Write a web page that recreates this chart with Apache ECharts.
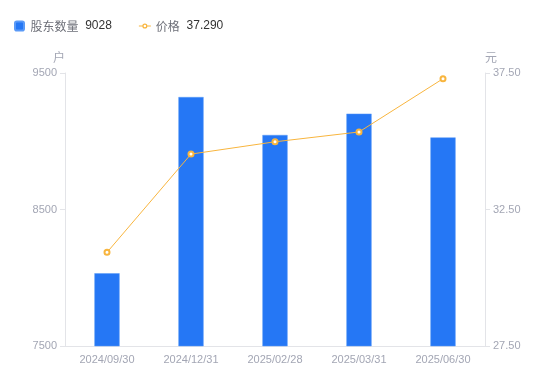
<!DOCTYPE html>
<html>
<head>
<meta charset="utf-8">
<script src="https://cdn.jsdelivr.net/npm/echarts@6/dist/echarts.min.js"></script>
<style>
  html, body { margin: 0; padding: 0; background: #fff; }
  #container { width: 550px; height: 381px; }
</style>
</head>
<body>
<div id="container"></div>
<script>
// data
const dates = ['2024/09/30', '2024/12/31', '2025/02/28', '2025/03/31', '2025/06/30'];
const holders = [8033, 9324, 9046, 9202, 9028];
const prices = [30.93, 34.53, 34.98, 35.34, 37.29];
const holderTicks = [7500, 9500, 1000];   // min, max, interval
const priceTicks = [27.5, 37.5, 5];

const lastHolder = holders[holders.length - 1];
const lastPrice = prices[prices.length - 1].toFixed(3);

let dom = document.getElementById('container');
let myChart = echarts.init(dom);

let labelColor = '#a3a6b4';
let lineColor = '#e3e4e8';
let squareIcon = 'path://M2,0H8A2,2,0,0,1,10,2V8A2,2,0,0,1,8,10H2A2,2,0,0,1,0,8V2A2,2,0,0,1,2,0Z';
// short line with a hollow ring in the middle
let lineIcon = 'path://M0,2.5H4V3.5H0Z M10,2.5H14V3.5H10Z ' +
    'M7,0A3,3,0,1,1,7,6A3,3,0,1,1,7,0Z M7,1.5A1.5,1.5,0,1,0,7,4.5A1.5,1.5,0,1,0,7,1.5Z';

let option = {
    textStyle: { fontFamily: 'Liberation Sans, Noto Sans CJK SC, sans-serif' },
    legend: {
        left: 9,
        top: 15,
        itemGap: 27,
        itemWidth: 12,
        itemHeight: 9,
        formatter: function (name) {
            let v = name === '股东数量' ? lastHolder : lastPrice;
            return '{n|' + name + '}{v|  ' + v + '}';
        },
        textStyle: {
            rich: {
                n: { color: '#6e7079', fontSize: 12, lineHeight: 14, verticalAlign: 'middle', fontFamily: 'Noto Sans CJK SC' },
                v: { color: '#333', fontSize: 12, lineHeight: 14, verticalAlign: 'middle', fontFamily: 'Liberation Sans' }
            }
        },
        data: [
            { name: '股东数量', icon: squareIcon, itemStyle: { color: '#2577f5' } },
            { name: '价格', icon: lineIcon, itemStyle: { color: '#f8b53e' } }
        ]
    },
    grid: { left: 65, right: 65, top: 73, bottom: 35 },
    xAxis: {
        type: 'category',
        data: dates,
        axisLine: { lineStyle: { color: lineColor } },
        axisTick: { show: false },
        axisLabel: { color: labelColor, fontSize: 11, margin: 8 }
    },
    yAxis: [
        {
            type: 'value',
            name: '户',
            nameGap: 10,
            nameTextStyle: { color: labelColor, fontSize: 12, align: 'right', fontFamily: 'Noto Sans CJK SC' },
            min: holderTicks[0],
            max: holderTicks[1],
            interval: holderTicks[2],
            axisLine: { show: true, lineStyle: { color: lineColor } },
            axisTick: { show: true, lineStyle: { color: lineColor } },
            splitLine: { show: false },
            axisLabel: {
                color: labelColor,
                fontSize: 11,
                formatter: function (v) { return String(v); }
            }
        },
        {
            type: 'value',
            name: '元',
            nameGap: 10,
            nameTextStyle: { color: labelColor, fontSize: 12, align: 'left', fontFamily: 'Noto Sans CJK SC' },
            min: priceTicks[0],
            max: priceTicks[1],
            interval: priceTicks[2],
            axisLine: { show: true, lineStyle: { color: lineColor } },
            axisTick: { show: true, lineStyle: { color: lineColor } },
            splitLine: { show: false },
            axisLabel: {
                color: labelColor,
                fontSize: 11,
                formatter: function (v) { return v.toFixed(2); }
            }
        }
    ],
    series: [
        {
            name: '股东数量',
            type: 'bar',
            barWidth: '30%',
            itemStyle: { color: '#2577f5', borderColor: '#5a9af7', borderWidth: 0.5 },
            data: holders
        },
        {
            name: '价格',
            type: 'line',
            yAxisIndex: 1,
            symbol: 'emptyCircle',
            symbolSize: 5,
            itemStyle: { color: '#f8b53e', borderWidth: 2 },
            lineStyle: { color: '#f8b53e', width: 1 },
            data: prices
        }
    ]
};
myChart.setOption(option);
</script>
</body>
</html>
